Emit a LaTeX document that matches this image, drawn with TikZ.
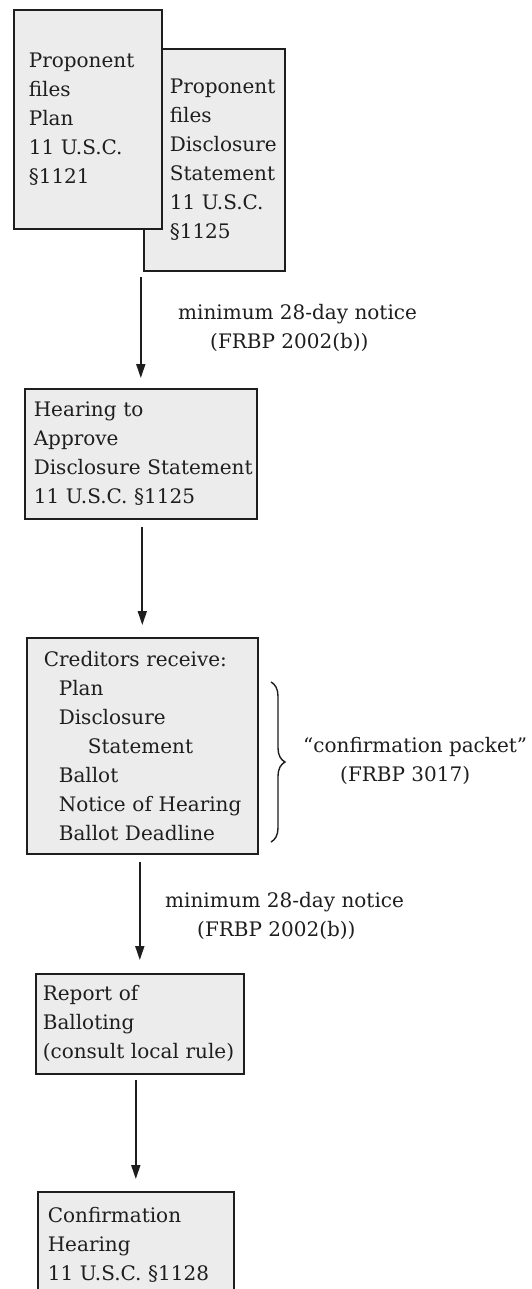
\documentclass[tikz,border=0pt]{standalone}
\usepackage{fontspec}
\setmainfont{DejaVu Serif}
\usetikzlibrary{arrows.meta,decorations.pathreplacing}
\definecolor{boxfill}{HTML}{ECECEC}
\definecolor{ink}{HTML}{1E1E1E}
\newcommand{\bxfont}{\fontsize{20}{29}\selectfont\hyphenpenalty=10000\exhyphenpenalty=10000\lefthyphenmin=64\hbadness=10000\hfuzz=200pt}
\begin{document}
\begin{tikzpicture}[x=1pt,y=-1pt,
  box/.style={draw=ink, line width=1.6pt, fill=boxfill, align=left, anchor=north west,
    inner ysep=0pt, font=\bxfont, text=ink},
  arr/.style={-{Triangle[length=14pt,width=9pt]}, line width=1.7pt, draw=ink},
  note/.style={align=left, anchor=west, inner sep=0pt, font=\bxfont, text=ink},
  brc/.style={decorate, decoration={brace, amplitude=14pt}, line width=1.4pt, draw=ink}]
\fill[white] (0,0) rectangle (532,1289);
\clip (0,0) rectangle (532,1289);
% top pair of boxes (the plan box lies over the disclosure box)
\node[box, text width=89pt, inner xsep=26pt, minimum height=222pt] (ds) at (143,48)
  {Proponent\\files\\Disclosure\\Statement\\11~U.S.C.\\§1125};
\node[box, text width=118pt, inner xsep=15pt, minimum height=219pt] (plan) at (13,9)
  {Proponent\\files\\Plan\\11~U.S.C.\\§1121};
% chain of steps
\node[box, text width=214pt, inner xsep=9pt, minimum height=130pt] (hear) at (24,388)
  {Hearing~to\\Approve\\Disclosure~Statement\\11~U.S.C.~§1125};
\node[box, text width=197pt, inner xsep=17pt, minimum height=216pt] (cred) at (26,637)
  {Creditors~receive:\\\hspace*{15pt}Plan\\\hspace*{15pt}Disclosure\\\hspace*{44pt}Statement\\\hspace*{15pt}Ballot\\\hspace*{15pt}Notice~of~Hearing\\\hspace*{15pt}Ballot~Deadline};
\node[box, text width=194pt, inner xsep=7pt, minimum height=100pt] (rep) at (35,973)
  {Report~of\\Balloting\\(consult~local~rule)};
\node[box, text width=176pt, inner xsep=10pt, inner ysep=15pt] (conf) at (37,1191)
  {Confirmation\\Hearing\\11~U.S.C.~§1128};
% connectors
\draw[arr] ([yshift=-5pt]hear.north |- ds.south) -- ([yshift=10pt]hear.north);
\draw[arr] ([yshift=-7pt]hear.south -| cred.north) -- ([yshift=12pt]cred.north);
\draw[arr] ([yshift=-7pt]cred.south -| rep.north) -- ([yshift=13pt]rep.north);
\draw[arr] ([yshift=-5pt]rep.south -| conf.north) -- ([yshift=12pt]conf.north);
% notes
\node[note] (n1) at (178,327.5) {minimum 28-day notice\\\hspace*{32pt}(FRBP 2002(b))};
\node[note] (n2) at (165,916) {minimum 28-day notice\\\hspace*{32pt}(FRBP 2002(b))};
\coordinate (bt) at (271,682);
\coordinate (bb) at (271,842);
\draw[brc] (bt) -- (bb);
\node[note] (pk) at (303,761) {“confirmation packet”\\\hspace*{37pt}(FRBP 3017)};
\end{tikzpicture}
\end{document}
